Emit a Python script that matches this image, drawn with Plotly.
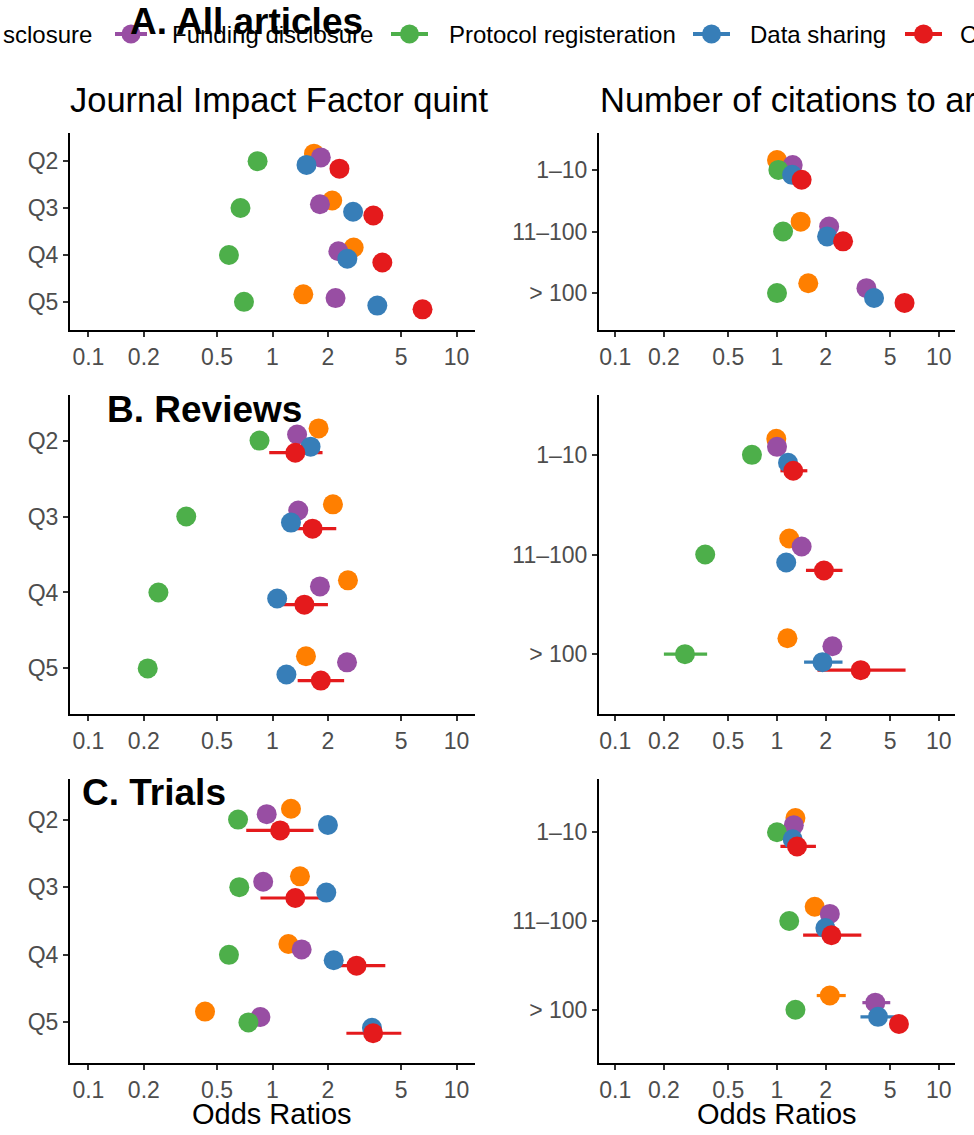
import plotly.graph_objects as go

W, H = 974, 1135
FONT = "Liberation Sans, Arial, Helvetica, sans-serif"

series_names = ["COI disclosure", "Funding disclosure", "Protocol registeration",
                "Data sharing", "Code sharing"]
series_colors = ["#FF7F00", "#984EA3", "#4DAF4A", "#377EB8", "#E41A1C"]

jif_labels = ["Q2", "Q3", "Q4", "Q5"]
cit_labels = ["1–10", "11–100", "> 100"]
x_tick_vals = [0.1, 0.2, 0.5, 1, 2, 5, 10]
x_tick_text = ["0.1", "0.2", "0.5", "1", "2", "5", "10"]

# rows = series (COI, Funding, Protocol, Data, Code); cols = categories
# ---- A. All articles ----
all_jif_or = [[1.68, 2.11, 2.76, 1.47],
              [1.83, 1.81, 2.28, 2.20],
              [0.83, 0.67, 0.58, 0.70],
              [1.53, 2.74, 2.55, 3.71],
              [2.31, 3.53, 3.95, 6.53]]
all_jif_lo = [[None, None, None, None]] * 5
all_jif_hi = [[None, None, None, None]] * 5

all_cit_or = [[1.00, 1.40, 1.56],
              [1.25, 2.10, 3.57],
              [1.02, 1.09, 1.00],
              [1.24, 2.04, 3.98],
              [1.42, 2.56, 6.14]]
all_cit_lo = [[None, None, None]] * 5
all_cit_hi = [[None, None, None]] * 5

# ---- B. Reviews ----
rev_jif_or = [[1.78, 2.13, 2.57, 1.52],
              [1.36, 1.38, 1.81, 2.54],
              [0.85, 0.34, 0.24, 0.21],
              [1.61, 1.26, 1.06, 1.19],
              [1.33, 1.65, 1.49, 1.83]]
rev_jif_lo = [[None, None, None, None],
              [None, None, None, None],
              [None, None, None, None],
              [None, None, None, None],
              [0.96, 1.22, 1.12, 1.37]]
rev_jif_hi = [[None, None, None, None],
              [None, None, None, None],
              [None, None, None, None],
              [None, None, None, None],
              [1.87, 2.22, 2.00, 2.45]]

rev_cit_or = [[0.99, 1.19, 1.16],
              [1.00, 1.42, 2.20],
              [0.70, 0.36, 0.27],
              [1.17, 1.14, 1.91],
              [1.26, 1.95, 3.29]]
rev_cit_lo = [[None, None, None],
              [None, None, None],
              [None, None, 0.20],
              [None, None, 1.47],
              [1.05, 1.51, 1.78]]
rev_cit_hi = [[None, None, None],
              [None, None, None],
              [None, None, 0.37],
              [None, None, 2.54],
              [1.54, 2.54, 6.23]]

# ---- C. Trials ----
tri_jif_or = [[1.26, 1.41, 1.22, 0.43],
              [0.93, 0.89, 1.44, 0.86],
              [0.65, 0.66, 0.58, 0.74],
              [2.00, 1.96, 2.15, 3.47],
              [1.10, 1.33, 2.86, 3.52]]
tri_jif_lo = [[None, None, None, None],
              [None, None, None, None],
              [None, None, None, None],
              [None, None, None, None],
              [0.72, 0.86, 2.00, 2.52]]
tri_jif_hi = [[None, None, None, None],
              [None, None, None, None],
              [None, None, None, None],
              [None, None, None, None],
              [1.67, 2.09, 4.10, 5.01]]

tri_cit_or = [[1.30, 1.71, 2.12],
              [1.27, 2.12, 4.05],
              [1.00, 1.19, 1.30],
              [1.25, 1.99, 4.21],
              [1.33, 2.17, 5.67]]
tri_cit_lo = [[1.17, None, 1.76],
              [1.15, None, 3.37],
              [None, None, None],
              [1.15, None, 3.28],
              [1.05, 1.45, None]]
tri_cit_hi = [[1.45, None, 2.66],
              [1.42, None, 5.01],
              [None, None, None],
              [1.40, None, 5.59],
              [1.74, 3.32, None]]

DODGE = 0.08

panels = [
    (all_jif_or, all_jif_lo, all_jif_hi, jif_labels),
    (all_cit_or, all_cit_lo, all_cit_hi, cit_labels),
    (rev_jif_or, rev_jif_lo, rev_jif_hi, jif_labels),
    (rev_cit_or, rev_cit_lo, rev_cit_hi, cit_labels),
    (tri_jif_or, tri_jif_lo, tri_jif_hi, jif_labels),
    (tri_cit_or, tri_cit_lo, tri_cit_hi, cit_labels),
]

col_px = [(70, 475), (599, 955)]
row_px = [(133, 330), (395, 714), (779, 1063)]

fig = go.Figure()
layout_axes = {}

for p, (ors, los, his, labels) in enumerate(panels):
    idx = p + 1
    r, c = divmod(p, 2)
    xa = "x" if idx == 1 else f"x{idx}"
    ya = "y" if idx == 1 else f"y{idx}"
    n = len(labels)
    # confidence-interval lines first (under all points)
    for s in range(5):
        xs, ys = [], []
        for k in range(n):
            lo, hi = los[s][k], his[s][k]
            if lo is None or hi is None:
                continue
            yv = k + 1 + (s - 2) * DODGE
            xs += [lo, hi, None]
            ys += [yv, yv, None]
        if xs:
            fig.add_trace(go.Scatter(x=xs, y=ys, mode="lines", xaxis=xa, yaxis=ya,
                                     line=dict(color=series_colors[s], width=3.2),
                                     showlegend=False, hoverinfo="skip"))
    for s in range(5):
        ys = [k + 1 + (s - 2) * DODGE for k in range(n)]
        fig.add_trace(go.Scatter(x=ors[s], y=ys, mode="markers", xaxis=xa, yaxis=ya,
                                 name=series_names[s],
                                 marker=dict(size=20, color=series_colors[s],
                                             line=dict(width=0)),
                                 showlegend=False, cliponaxis=False))
    x0, x1 = col_px[c]
    y0, y1 = row_px[r]
    axcommon = dict(showline=True, linecolor="black", linewidth=2,
                    ticks="outside", ticklen=5, tickwidth=2, tickcolor="#333333",
                    showgrid=False, zeroline=False,
                    tickfont=dict(family=FONT, size=23, color="#4D4D4D"))
    layout_axes["xaxis" if idx == 1 else f"xaxis{idx}"] = dict(
        domain=[x0 / W, x1 / W], anchor=ya, type="log", range=[-1.1, 1.1],
        tickvals=x_tick_vals, ticktext=x_tick_text, **axcommon)
    layout_axes["yaxis" if idx == 1 else f"yaxis{idx}"] = dict(
        domain=[1 - y1 / H, 1 - y0 / H], anchor=xa, range=[n + 0.6, 0.4],
        tickvals=list(range(1, n + 1)), ticktext=labels, **axcommon)

fig.update_layout(**layout_axes)


def px(x):
    return x / W


def py(y):
    return 1 - y / H


annotations = []
shapes = []

# manual legend (cropped at figure edges as in the original)
legend_y = 34
legend_items = [  # (series index, key line x0, x1, text x)
    (1, 115, 147, 170),
    (2, 391, 428, 447),
    (3, 693, 730, 748),
    (4, 905, 942, 958),
]
legend_texts = {1: "Funding disclosure", 2: "Protocol registeration",
                3: "Data sharing", 4: "C"}
annotations.append(dict(x=px(94), y=py(legend_y), xref="paper", yref="paper",
                        text="sclosure", showarrow=False, xanchor="right",
                        yanchor="middle", font=dict(family=FONT, size=24, color="black")))
for s, lx0, lx1, tx in legend_items:
    cx = (lx0 + lx1) / 2
    shapes.append(dict(type="line", xref="paper", yref="paper",
                       x0=px(lx0), x1=px(lx1), y0=py(legend_y), y1=py(legend_y),
                       line=dict(color=series_colors[s], width=4)))
    shapes.append(dict(type="circle", xref="paper", yref="paper",
                       x0=px(cx - 9.5), x1=px(cx + 9.5),
                       y0=py(legend_y + 9.5), y1=py(legend_y - 9.5),
                       fillcolor=series_colors[s], line=dict(width=0)))
    annotations.append(dict(x=px(tx), y=py(legend_y), xref="paper", yref="paper",
                            text=legend_texts[s], showarrow=False, xanchor="left",
                            yanchor="middle",
                            font=dict(family=FONT, size=24, color="black")))

# column titles
annotations.append(dict(x=px(68), y=py(100), xref="paper", yref="paper",
                        text="Journal Impact Factor quint", showarrow=False,
                        xanchor="left", yanchor="middle",
                        font=dict(family=FONT, size=34.5, color="black")))
annotations.append(dict(x=px(598), y=py(100), xref="paper", yref="paper",
                        text="Number of citations to ar", showarrow=False,
                        xanchor="left", yanchor="middle",
                        font=dict(family=FONT, size=34.5, color="black")))

# row labels
for txt, x, y in [("A. All articles", 128, 22), ("B. Reviews", 105, 409),
                  ("C. Trials", 80, 792)]:
    annotations.append(dict(x=px(x), y=py(y), xref="paper", yref="paper",
                            text=f"<b>{txt}</b>", showarrow=False,
                            xanchor="left", yanchor="middle",
                            font=dict(family=FONT, size=37, color="black")))

# x axis titles
for cx in [272, 777]:
    annotations.append(dict(x=px(cx), y=py(1114), xref="paper", yref="paper",
                            text="Odds Ratios", showarrow=False,
                            xanchor="center", yanchor="middle",
                            font=dict(family=FONT, size=29, color="black")))

fig.update_layout(width=W, height=H, margin=dict(l=0, r=0, t=0, b=0),
                  plot_bgcolor="white", paper_bgcolor="white", showlegend=False,
                  annotations=annotations, shapes=shapes,
                  font=dict(family=FONT))

fig.write_html("out.html",
               config={"displayModeBar": False},
               post_script="document.body.style.margin='0';"
                           "document.body.style.overflow='hidden';")
